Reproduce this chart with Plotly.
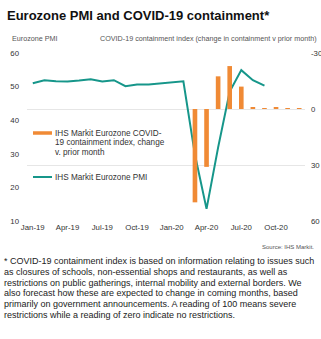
import plotly.graph_objects as go

months = ["Jan-19","Feb-19","Mar-19","Apr-19","May-19","Jun-19","Jul-19","Aug-19","Sep-19","Oct-19","Nov-19","Dec-19",
          "Jan-20","Feb-20","Mar-20","Apr-20","May-20","Jun-20","Jul-20","Aug-20","Sep-20","Oct-20","Nov-20","Dec-20"]
pmi = [51.0, 51.9, 51.6, 51.5, 51.8, 52.2, 51.5, 51.9, 50.1, 50.6, 50.6, 50.9,
       51.3, 51.6, 29.7, 13.6, 31.9, 48.5, 54.9, 51.9, 50.3]
containment_change = [0, 0, 0, 0, 0, 0, 0, 0, 0, 0, 0, 0,
                      0, 0, 50, 31, -17.5, -23, -12, -0.8, -0.5, -0.6, -0.5, -0.3]
tick_labels = ["Jan-19","Apr-19","Jul-19","Oct-19","Jan-20","Apr-20","Jul-20","Oct-20"]

TEAL = "#16968a"
ORANGE = "#f08a35"
FONT = "Liberation Sans, Arial, sans-serif"

W, H = 321, 339
L, R, T, B = 27, 16, 53, 118
pw, ph = W - L - R, H - T - B

def px(x):
    return (x - L) / pw

def py(y):
    return (H - B - y) / ph

fig = go.Figure()
fig.add_trace(go.Bar(x=months, y=containment_change, yaxis="y2", marker_color=ORANGE,
                     marker_line_width=0, width=0.4, showlegend=False))
fig.add_trace(go.Scatter(x=months[:len(pmi)], y=pmi, mode="lines", line=dict(color=TEAL, width=2),
                         showlegend=False))

fig.update_layout(
    template=None,
    width=W, height=H,
    margin=dict(l=L, r=R, t=T, b=B, autoexpand=False),
    plot_bgcolor="white", paper_bgcolor="white",
    showlegend=False,
    font=dict(family=FONT, color="#333333", size=8),
    title=dict(text="<b>Eurozone PMI and COVID-19 containment*</b>", x=7 / W, xanchor="left",
               xref="container", yref="container", y=1 - 15 / H, yanchor="middle",
               font=dict(family=FONT, size=13, color="#111111")),
    xaxis=dict(type="category", categoryorder="array", categoryarray=months, automargin=False,
               range=[-0.5, 23.5], tickvals=tick_labels, ticktext=tick_labels,
               showgrid=False, showline=False, zeroline=False, ticks="",
               tickfont=dict(size=7.8, color="#333333")),
    yaxis=dict(range=[10, 60], tickvals=[10, 20, 30, 40, 50, 60], showgrid=False, zeroline=False,
               automargin=False, ticks="", ticklabelstandoff=7, tickfont=dict(size=7.8, color="#333333")),
    yaxis2=dict(range=[60, -30], tickvals=[-30, 0, 30, 60], ticktext=["-30", "0", "30", "60"],
                overlaying="y", side="right", automargin=False,
                showgrid=True, gridcolor="#e6e6e6", gridwidth=1, zeroline=False, ticks="",
                ticklabelstandoff=5, tickfont=dict(size=7.8, color="#333333")),
)

def text_at(text, x, y, size, color="#333333", xanchor="left"):
    fig.add_annotation(text=text, xref="paper", yref="paper", x=px(x), y=py(y),
                       xanchor=xanchor, yanchor="middle", align="left", showarrow=False,
                       font=dict(size=size, color=color))

# Axis titles
text_at("Eurozone PMI", 10, 38, 7.2, "#555555")
text_at("COVID-19 containment index (change in containment v prior month)", 319, 38, 7.2,
        "#555555", xanchor="right")

# Legend (manual)
fig.add_shape(type="line", xref="paper", yref="paper", x0=px(33), x1=px(52), y0=py(133), y1=py(133),
              line=dict(color=ORANGE, width=3.5))
for i, line in enumerate(["IHS Markit Eurozone COVID-", "19 containment index, change", "v. prior month"]):
    text_at(line, 53, 133 + i * 9.6, 8.2)
fig.add_shape(type="line", xref="paper", yref="paper", x0=px(33), x1=px(52), y0=py(177), y1=py(177),
              line=dict(color=TEAL, width=2))
text_at("IHS Markit Eurozone PMI", 53, 177, 8.2)

# Source
text_at("Source: IHS Markit.", 316, 247, 6, "#555555", xanchor="right")

# Footnote
foot_lines = [
    "* COVID-19 containment index is based on information relating to issues such",
    "as closures of schools, non-essential shops and restaurants, as well as",
    "restrictions on public gatherings, internal mobility and external borders. We",
    "also forecast how these are expected to change in coming months, based",
    "primarily on government announcements. A reading of 100 means severe",
    "restrictions while a reading of zero indicate no restrictions.",
]
for i, line in enumerate(foot_lines):
    text_at(line, 2, 261 + i * 10.8, 9.0, "#222222")

fig.write_html("out.html")
